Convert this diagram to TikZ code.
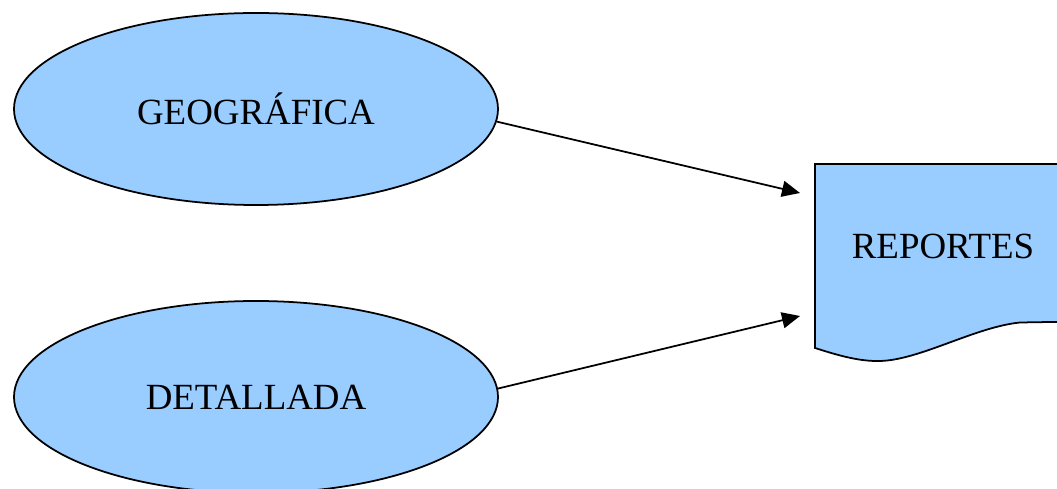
\documentclass[tikz,border=0pt]{standalone}
\usepackage{fontspec}
\setmainfont{Liberation Serif}
\usepackage{xcolor}
\usepackage{tikz}
\usetikzlibrary{arrows.meta}
\usetikzlibrary{shapes.geometric}
\definecolor{celeste}{HTML}{99CCFF}

\begin{document}
\begin{tikzpicture}[
    elipse/.style={ellipse, draw, line width=1pt, fill=celeste, minimum width=9.68cm, minimum height=3.84cm, inner sep=0pt, font=\fontsize{21}{25}\selectfont},
    edge/.style={-{Triangle[length=0.36cm, width=0.32cm]}, line width=1pt},
    documento/.style={draw, line width=1pt, fill=celeste}
]

% Marco de la figura
\useasboundingbox (0,0) rectangle (21.14,9.76);
\clip (0,0) rectangle (21.14,9.76);

% Fuentes de datos
\node[elipse] (geo) at (5.12, 7.58) {GEOGRÁFICA};
\node[elipse] (det) at (5.12, 1.82) {DETALLADA};

% Documento de salida
\draw[documento] (16.3, 2.8) -- (16.3, 6.48) -- (21.6, 6.48) -- (21.6, 3.33)
    -- (20.4, 3.31) .. controls (19.5, 3.22) and (18.4, 2.56) .. (17.6, 2.54)
    .. controls (17.2, 2.53) and (16.8, 2.64) .. (16.3, 2.8) -- cycle;
\node[font=\fontsize{21}{25}\selectfont] (rep) at (18.86, 4.84) {REPORTES};

% Puntos de llegada
\coordinate (rep1) at (16.0, 5.9);
\coordinate (rep2) at (16.0, 3.44);

% Conexiones
\draw[edge] (geo.-3) -- (rep1);
\draw[edge] (det.2) -- (rep2);

\end{tikzpicture}
\end{document}
